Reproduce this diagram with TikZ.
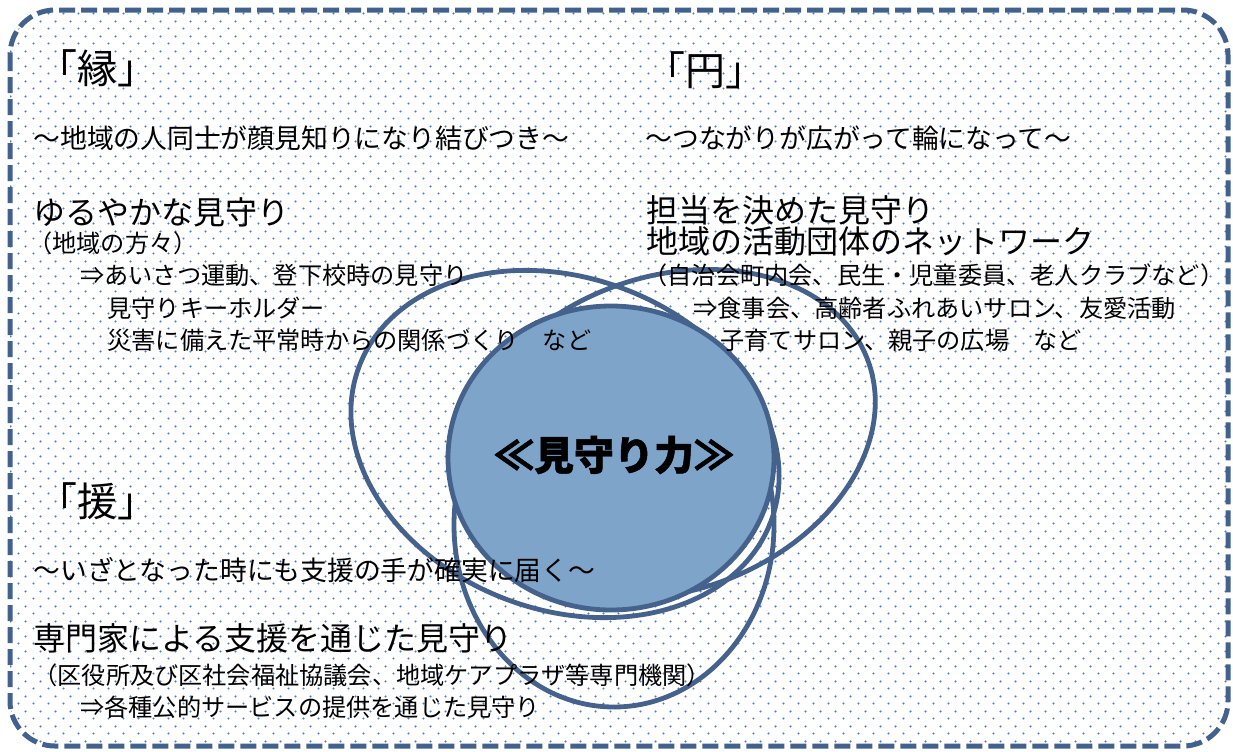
\documentclass[tikz,border=0pt]{standalone}
\usepackage{fontspec}
\setmainfont{Noto Sans CJK JP}
\usetikzlibrary{shapes.geometric,patterns}
\definecolor{framec}{RGB}{66,97,140}
\definecolor{ellc}{RGB}{68,98,140}
\definecolor{fillc}{RGB}{126,164,202}
\definecolor{dotc}{RGB}{80,125,190}
\pgfdeclarepatternformonly{bgdots}{\pgfqpoint{0pt}{0pt}}{\pgfqpoint{7.5pt}{7.5pt}}{\pgfqpoint{7.5pt}{7.5pt}}{%
  \pgfpathcircle{\pgfqpoint{1.875pt}{1.875pt}}{0.62pt}%
  \pgfpathcircle{\pgfqpoint{5.625pt}{5.625pt}}{0.62pt}%
  \pgfusepath{fill}}
\begin{document}
\begin{tikzpicture}[x=0.5pt,y=-0.5pt,
  titletext/.style={anchor=west,inner sep=0pt,font=\fontsize{20pt}{24pt}\selectfont},
  subtext/.style={anchor=west,inner sep=0pt,font=\fontsize{13.4pt}{16pt}\selectfont},
  headtext/.style={anchor=west,inner sep=0pt,font=\fontsize{16pt}{19pt}\selectfont},
  dettext/.style={anchor=west,inner sep=0pt,font=\fontsize{12.1pt}{14pt}\selectfont},
  venn/.style={draw=ellc,line width=2.4pt}]
\useasboundingbox (0,0) rectangle (1233,751);
\fill[white] (0,0) rectangle (1233,751);
\path[pattern=bgdots,pattern color=dotc,rounded corners=22.5pt] (10,10) rectangle (1228,746);
\draw[draw=framec,line width=2.5pt,dash pattern=on 8pt off 3pt,rounded corners=22.5pt] (10,10) rectangle (1228,746);
% Venn ellipses
\draw[venn, rotate around={-20.6:(565,444)}] (565,444) ellipse [x radius=220, y radius=166];
\draw[venn, rotate around={20:(668,434)}] (668,434) ellipse [x radius=213, y radius=157];
\draw[venn] (614,525) ellipse [x radius=160, y radius=182];
\node[ellipse, draw=ellc, line width=2.4pt, fill=fillc, minimum width=163pt, minimum height=152pt, inner sep=0pt] (core) at (611,458) {};
\node[inner sep=0pt, font=\fontsize{20pt}{24pt}\selectfont\bfseries\addfontfeature{FakeBold=1.2}] (coretext) at (614,455) {≪見守り力≫};
% titles
\node[titletext] (en1) at (37,68) {「縁」};
\node[titletext] (en2) at (645,70) {「円」};
\node[titletext] (en3) at (37,501) {「援」};
% subtitles
\node[subtext] (s1) at (33,138) {～地域の人同士が顔見知りになり結びつき～};
\node[subtext] (s2) at (645,138) {～つながりが広がって輪になって～};
\node[subtext] (s3) at (33,570) {～いざとなった時にも支援の手が確実に届く～};
% left block
\node[headtext] (h1) at (33,212) {ゆるやかな見守り};
\node[dettext] (d1) at (28,243) {（地域の方々）};
\node[dettext] (d2) at (80,275) {⇒あいさつ運動、登下校時の見守り};
\node[dettext] (d3) at (107,308) {見守りキーホルダー};
\node[dettext] (d4) at (107,340) {災害に備えた平常時からの関係づくり　など};
% right block
\node[headtext] (h2) at (646,210) {担当を決めた見守り};
\node[headtext] (h2b) at (646,241) {地域の活動団体のネットワーク};
\node[dettext] (r1) at (643,275) {（自治会町内会、民生・児童委員、老人クラブなど）};
\node[dettext] (r2) at (693,308) {⇒食事会、高齢者ふれあいサロン、友愛活動};
\node[dettext] (r3) at (720,340) {子育てサロン、親子の広場　など};
% bottom block
\node[headtext] (h3) at (33,638) {専門家による支援を通じた見守り};
\node[dettext] (b1) at (33,675) {（区役所及び区社会福祉協議会、地域ケアプラザ等専門機関）};
\node[dettext] (b2) at (80,707) {⇒各種公的サービスの提供を通じた見守り};
\end{tikzpicture}
\end{document}
